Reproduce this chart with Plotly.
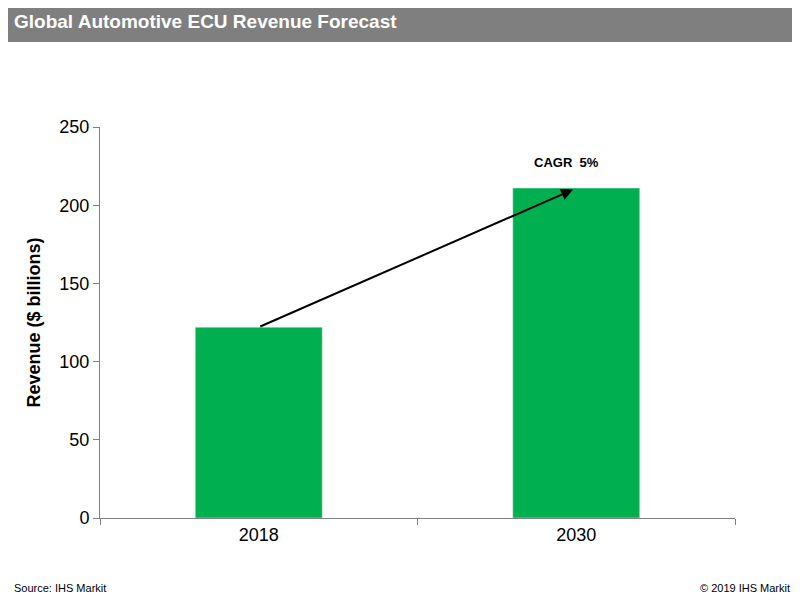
import plotly.graph_objects as go

years = ["2018", "2030"]
revenue = [122, 211]
y_ticks = [0, 50, 100, 150, 200, 250]

W, H = 792, 592
L, T, R, B = 92, 119, 65, 82
pw = W - L - R
ph = H - T - B

fig = go.Figure(go.Bar(x=years, y=revenue, marker_color="#00B050", width=0.4))

fig.update_layout(
    width=W, height=H, paper_bgcolor="white", plot_bgcolor="white",
    margin=dict(l=L, r=R, t=T, b=B), showlegend=False,
    font=dict(family="Liberation Sans, Arial", color="black"),
)
fig.add_shape(type="rect", xref="paper", yref="paper",
              x0=-L/pw, x1=1+R/pw, y0=1+(T-34)/ph, y1=1+T/ph,
              fillcolor="#7F7F7F", line_width=0)
fig.add_annotation(xref="paper", yref="paper", x=-(L-4)/pw, y=1+(T-14)/ph,
                   text="<b>Global Automotive ECU Revenue Forecast</b>", showarrow=False,
                   xanchor="left", yanchor="middle", font=dict(size=19, color="white"))
fig.add_annotation(xref="paper", yref="paper", x=-(L-4)/pw, y=-70/ph,
                   text="Source: IHS Markit", showarrow=False, xanchor="left",
                   yanchor="middle", font=dict(size=11))
fig.add_annotation(xref="paper", yref="paper", x=1+(R-8)/pw, y=-70/ph,
                   text="© 2019 IHS Markit", showarrow=False, xanchor="right",
                   yanchor="middle", font=dict(size=11))
fig.add_annotation(x=0.99, y=210, ax=0, ay=122, xref="x", yref="y", axref="x", ayref="y",
                   showarrow=True, arrowhead=2, arrowsize=1.2, arrowwidth=2, arrowcolor="black", text="")
fig.add_annotation(x=0.97, y=227, xref="x", yref="y", text="<b>CAGR  5%</b>",
                   showarrow=False, font=dict(size=13))

fig.update_xaxes(type="category", range=[-0.5, 1.5], showline=True, linecolor="#808080",
                 ticks="outside", tickson="boundaries", tickcolor="#808080", ticklen=6,
                 tickfont=dict(size=18))
fig.update_yaxes(range=[0, 250], tickvals=y_ticks, showline=True, linecolor="#808080",
                 ticks="outside", tickcolor="#808080", ticklen=6, showgrid=False,
                 tickfont=dict(size=18), zeroline=False,
                 title=dict(text="<b>Revenue ($ billions)</b>", font=dict(size=18), standoff=14))

fig.write_html("out.html")
